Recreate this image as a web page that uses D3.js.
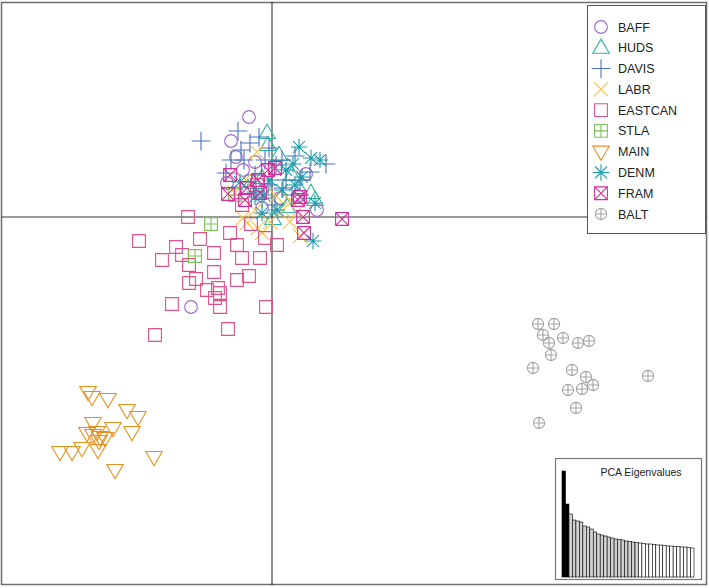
<!DOCTYPE html>
<html><head><meta charset="utf-8">
<script src="https://cdn.jsdelivr.net/npm/d3@7"></script>
<style>body{margin:0;background:#fff}svg{display:block}</style>
</head><body>
<script>
// ---- data (PC1, PC2) ----
const groups = ["BAFF","HUDS","DAVIS","LABR","EASTCAN","STLA","MAIN","DENM","FRAM","BALT"];
const colors = ["#a06cc6","#2fb39e","#4a70c0","#f7c24c","#e0508a","#7cc05a","#e8901e","#1a9cad","#d0309a","#a3a3a3"];
const shapes = ["circle","triUp","plus","cross","square","squarePlus","triDown","asterisk","squareCross","circlePlus"];

const BAFF = [[-2.3,10.0],[-4.1,7.6],[-3.6,6.0],[-4.5,3.4],[-1.7,5.5],[3.4,4.3],[4.5,0.7],[-8.1,-9.0],[-1.0,0.9],[0.8,1.9],[-2.9,4.7],[2.6,2.1]];
const HUDS = [[-0.5,8.4],[0.7,6.2],[3.9,2.4],[4.3,1.7],[0.1,-0.2],[-2.4,2.9],[2.8,2.7],[1.5,1.0],[-1.0,3.9],[-1.8,3.4],[-0.4,7.2],[2.0,4.2]];
const DAVIS = [[-7.1,7.6],[-3.4,8.6],[-1.3,8.0],[-3.1,6.7],[-4.1,5.7],[-2.2,7.4],[5.4,5.3],[1.0,5.7],[2.3,6.1],[-0.3,6.9],[0.4,5.2],[-4.6,4.4],[-1.7,4.2],[2.8,3.7],[-0.4,3.2],[1.4,3.7],[-3.2,3.0],[-1.0,1.9],[-1.6,2.5],[3.8,4.5],[-0.7,5.7],[2.0,2.2],[0.3,1.2],[-2.8,5.7],[1.1,2.9]];
const LABR = [[-1.5,6.5],[-2.9,-0.1],[1.1,0.7],[1.8,1.7],[-2.5,-0.6],[-1.7,0.7],[-0.2,-0.5],[2.5,0.5],[-1.0,-1.6],[2.8,-1.9],[-3.7,2.4],[-2.7,3.7],[1.8,-0.5],[-1.4,-1.1],[0.4,2.1]];
const EASTCAN = [[-8.4,0.0],[-4.2,-1.6],[-13.3,-2.4],[-7.2,-2.2],[-9.6,-3.0],[-2.1,-0.7],[-3.5,-2.8],[-0.7,-2.1],[0.5,-2.8],[-11.0,-4.3],[-9.0,-3.8],[-8.3,-4.8],[-5.8,-3.6],[-3.0,-4.1],[-1.2,-4.1],[-5.8,-5.5],[-2.3,-5.9],[-3.5,-6.3],[-7.6,-6.2],[-8.3,-6.6],[-6.5,-7.3],[-5.4,-7.1],[-5.2,-7.6],[-5.7,-8.1],[-5.2,-9.0],[-10.0,-8.7],[-0.6,-9.0],[-11.7,-11.8],[-4.4,-11.2],[-3.0,1.2],[-1.5,3.2]];
const STLA = [[-6.1,-0.7],[-7.7,-3.9],[-3.7,2.2]];
const MAIN = [[-18.4,-17.5],[-18.0,-18.0],[-16.4,-18.2],[-14.5,-19.3],[-13.4,-20.0],[-17.9,-20.6],[-15.9,-21.1],[-14.0,-21.5],[-18.5,-21.6],[-17.9,-21.8],[-17.2,-22.0],[-16.7,-22.1],[-19.0,-23.1],[-21.2,-23.5],[-20.0,-23.5],[-17.4,-23.3],[-15.7,-25.3],[-11.8,-24.0],[-17.5,-21.5],[-17.3,-22.4]];
const DENM = [[2.7,7.0],[3.9,5.9],[4.8,5.7],[3.0,4.0],[4.3,1.4],[4.1,-2.4],[-0.8,2.2],[1.4,4.7],[-1.0,0.4],[0.5,0.7],[2.3,3.2],[-0.2,3.7],[2.1,5.3],[-1.7,2.0],[-3.2,3.5],[1.0,2.7]];
const FRAM = [[0.3,4.9],[-2.5,2.9],[-2.7,1.7],[-1.2,2.4],[-4.4,2.3],[2.8,2.0],[3.1,0.0],[7.0,-0.2],[3.2,-1.6],[-4.2,4.2],[-0.4,4.7],[-1.4,3.7],[2.6,1.7]];
const BALT = [[26.6,-10.7],[28.2,-10.7],[27.1,-11.8],[27.7,-12.6],[29.1,-12.1],[30.6,-12.6],[31.7,-12.4],[27.9,-13.8],[26.1,-15.1],[30.0,-15.3],[31.4,-16.0],[32.1,-16.8],[31.0,-17.2],[29.6,-17.3],[37.6,-15.9],[30.4,-19.1],[26.7,-20.6]];
const groupData = [BAFF,HUDS,DAVIS,LABR,EASTCAN,STLA,MAIN,DENM,FRAM,BALT];

const eigenvalues = [106,73,63,57,56,55,51,50,48,45,43,42,41,40,39,38,37.5,37,36,35.5,35,34.5,34,33.5,33,33,32.5,32,32,31.5,31,31,30.5,30.5,30,30,29.5,29];
const eigTitle = "PCA Eigenvalues";

// ---- drawing ----
const W = 709, H = 588;
const svg = d3.select("body").append("svg").attr("width", W).attr("height", H);

const x = d3.scaleLinear().domain([-27.1, 43.5]).range([1, 707]);
const y = d3.scaleLinear().domain([21.5, -36.8]).range([2, 585]);

function symPath(shape, s) {
  const p = d3.path();
  const sq = (h) => { p.rect(-h, -h, 2*h, 2*h); };
  switch (shape) {
    case "circle": p.arc(0,0,s*0.85,0,2*Math.PI); break;
    case "triUp": { const h=s*1.05; p.moveTo(0,-h*1.1); p.lineTo(h*1.05,h*0.7); p.lineTo(-h*1.05,h*0.7); p.closePath(); break; }
    case "triDown": { const h=s*1.05; p.moveTo(0,h*1.1); p.lineTo(h*1.05,-h*0.7); p.lineTo(-h*1.05,-h*0.7); p.closePath(); break; }
    case "plus": { const h=s*1.25; p.moveTo(-h,0); p.lineTo(h,0); p.moveTo(0,-h); p.lineTo(0,h); break; }
    case "cross": { const h=s*0.95; p.moveTo(-h,-h); p.lineTo(h,h); p.moveTo(-h,h); p.lineTo(h,-h); break; }
    case "square": sq(s*0.85); break;
    case "squarePlus": { const h=s*0.85; sq(h); p.moveTo(-h,0); p.lineTo(h,0); p.moveTo(0,-h); p.lineTo(0,h); break; }
    case "squareCross": { const h=s*0.85; sq(h); p.moveTo(-h,-h); p.lineTo(h,h); p.moveTo(-h,h); p.lineTo(h,-h); break; }
    case "asterisk": { const h=s*1.1, d=h*0.72; p.moveTo(-h,0); p.lineTo(h,0); p.moveTo(0,-h); p.lineTo(0,h); p.moveTo(-d,-d); p.lineTo(d,d); p.moveTo(-d,d); p.lineTo(d,-d); break; }
    case "circlePlus": { const r=s*0.75; p.moveTo(r,0); p.arc(0,0,r,0,2*Math.PI); p.moveTo(-r,0); p.lineTo(r,0); p.moveTo(0,-r); p.lineTo(0,r); break; }
  }
  return p.toString();
}

// frame
svg.append("rect").attr("x",1.5).attr("y",2.5).attr("width",705).attr("height",582)
  .attr("fill","none").attr("stroke","#6e6e6e").attr("stroke-width",1.5);

// axes at zero
svg.append("line").attr("x1",x(0)).attr("x2",x(0)).attr("y1",y.range()[0]).attr("y2",y.range()[1])
  .attr("stroke","#333").attr("stroke-width",1.1);
svg.append("line").attr("y1",y(0)).attr("y2",y(0)).attr("x1",x.range()[0]).attr("x2",x.range()[1])
  .attr("stroke","#333").attr("stroke-width",1.1);

// points
const S = 7.5;
groupData.forEach((pts, gi) => {
  svg.append("g").selectAll("path").data(pts).join("path")
    .attr("transform", d => `translate(${x(d[0])},${y(d[1])})`)
    .attr("d", symPath(shapes[gi], S))
    .attr("fill","none").attr("stroke", colors[gi]).attr("stroke-width",1.1);
});

// legend
const lg = svg.append("g");
lg.append("rect").attr("x",587.5).attr("y",5.5).attr("width",118).attr("height",228)
  .attr("fill","#fff").attr("stroke","#555").attr("stroke-width",1);
const ly = d3.scalePoint().domain(groups).range([27, 214]);
groups.forEach((g, i) => {
  lg.append("path").attr("transform",`translate(601,${ly(g)})`).attr("d", symPath(shapes[i], 7.5))
    .attr("fill","none").attr("stroke", colors[i]).attr("stroke-width",1.1);
  lg.append("text").attr("x",618).attr("y",ly(g)+4.5).text(g)
    .attr("font-family","Liberation Sans, Arial, sans-serif").attr("font-size",12.5).attr("fill","#222");
});

// inset eigenvalues
const ins = svg.append("g");
ins.append("rect").attr("x",555.5).attr("y",458.5).attr("width",146).attr("height",121)
  .attr("fill","#fff").attr("stroke","#777").attr("stroke-width",1.2);
const bx = d3.scaleBand().domain(d3.range(eigenvalues.length)).range([562, 694]).padding(0);
const by = d3.scaleLinear().domain([0, d3.max(eigenvalues)]).range([577, 471]);
ins.selectAll("rect.bar").data(eigenvalues).join("rect").attr("class","bar")
  .attr("x",(d,i)=>bx(i)).attr("width",bx.bandwidth()).attr("y",d=>by(d)).attr("height",d=>by(0)-by(d))
  .attr("fill",(d,i)=> i<2 ? "#000" : (i<22 ? "#d0d0d0" : "#fff"))
  .attr("stroke","#000").attr("stroke-width",0.6);
ins.append("text").attr("x",641).attr("y",476).attr("text-anchor","middle").text(eigTitle)
  .attr("font-family","Liberation Sans, Arial, sans-serif").attr("font-size",10.5).attr("fill","#222");
</script>
</body></html>
